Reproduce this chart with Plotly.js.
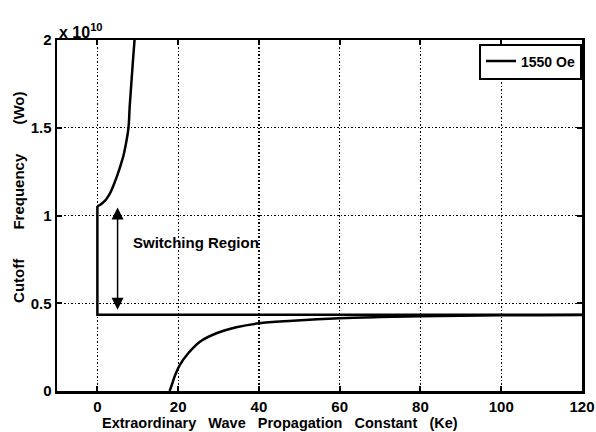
<!DOCTYPE html>
<html>
<head>
<meta charset="utf-8">
<script src="https://cdn.plot.ly/plotly-3.0.1.min.js"></script>
<style>html,body{margin:0;padding:0;background:#fff;}#plot{width:596px;height:432px;}</style>
</head>
<body>
<div id="plot"></div>
<script>
// Values in units of 1e10 (as shown by the "x 10^10" axis multiplier)
const upperK = [9.2, 8.8, 8.4, 8.0, 7.7, 7.0, 6.5, 5.8, 5.1, 4.3, 3.6, 2.9, 2.1, 1.2, 0.6, 0.2, 0];
const upperW = [2.0, 1.88, 1.75, 1.62, 1.5, 1.40, 1.345, 1.29, 1.24, 1.19, 1.15, 1.117, 1.09, 1.07, 1.06, 1.055, 1.054];
const stepK = [0, 0, 120];
const stepW = [1.054, 0.435, 0.435];
const lowerK = [17.9, 18.5, 19.1, 20.4, 22.5, 25.4, 29.5, 34.4, 40, 48.4, 59.9, 70, 80, 90, 100, 110, 120];
const lowerW = [0, 0.04, 0.081, 0.148, 0.215, 0.281, 0.329, 0.363, 0.386, 0.40, 0.414, 0.421, 0.426, 0.429, 0.431, 0.432, 0.433];
const xTicks = [0, 20, 40, 60, 80, 100, 120];
const yTicks = [0, 0.5, 1, 1.5, 2];
const seriesName = '1550 Oe';
const xTitleWords = ['Extraordinary', 'Wave', 'Propagation', 'Constant', '(Ke)'];
const yTitleWords = ['Cutoff', 'Frequency', '(Wo)'];
const arrowK = 5;
const arrowTop = 1.045;
const arrowBottom = 0.455;

const F = 'Arial, "Liberation Sans", Helvetica, sans-serif';
const nb = n => '\u00a0'.repeat(n);
const lineStyle = {color: '#000', width: 2.5};

const traces = [
  {x: stepK, y: stepW, mode: 'lines', name: '<b>' + seriesName + '</b>', legendgroup: 'g',
   line: Object.assign({}, lineStyle), hoverinfo: 'skip'},
  {x: upperK, y: upperW, mode: 'lines', name: seriesName, legendgroup: 'g', showlegend: false,
   line: Object.assign({shape: 'spline', smoothing: 1}, lineStyle), hoverinfo: 'skip'},
  {x: lowerK, y: lowerW, mode: 'lines', name: seriesName, legendgroup: 'g', showlegend: false,
   line: Object.assign({shape: 'spline', smoothing: 1}, lineStyle), hoverinfo: 'skip'}
];

const axisCommon = {
  showline: true, linecolor: '#000', linewidth: 2.5, mirror: 'allticks',
  ticks: 'inside', ticklen: 5, tickwidth: 2, tickcolor: '#000',
  showgrid: true, gridcolor: '#000', gridwidth: 1.2, griddash: '1.5px,2px',
  zeroline: false,
  tickfont: {family: F, size: 15, color: '#000'},
  automargin: false
};

const layout = {
  width: 596, height: 432,
  margin: {l: 57, r: 14, t: 40, b: 41},
  paper_bgcolor: '#fff', plot_bgcolor: '#fff',
  showlegend: true,
  legend: {
    x: 1, y: 0.99, xanchor: 'right', yanchor: 'top',
    bordercolor: '#000', borderwidth: 2, bgcolor: '#fff',
    font: {family: F, size: 14, color: '#000'},
    itemwidth: 30, tracegroupgap: 0
  },
  xaxis: Object.assign({}, axisCommon, {
    range: [-10, 120], tickvals: xTicks, ticktext: xTicks.map(v => '<b>' + v + '</b>')
  }),
  yaxis: Object.assign({}, axisCommon, {
    range: [0, 2], tickvals: yTicks, ticktext: yTicks.map(v => '<b>' + v + '</b>')
  }),
  annotations: [
    {xref: 'paper', yref: 'paper', x: 0.425, y: -0.091, xanchor: 'center', yanchor: 'middle',
     text: '<b>' + xTitleWords.join(nb(3)) + '</b>', showarrow: false,
     font: {family: F, size: 14.5, color: '#000'}},
    {xref: 'paper', yref: 'paper', x: -0.0724, y: 0.553, xanchor: 'center', yanchor: 'middle',
     textangle: -90, text: '<b>' + yTitleWords.join(nb(7)) + '</b>', showarrow: false,
     font: {family: F, size: 15, color: '#000'}},
    {xref: 'paper', yref: 'paper', x: 0, y: 1, xanchor: 'left', yanchor: 'bottom', yshift: -3,
     text: '<b>x 10<sup>10</sup></b>', showarrow: false,
     font: {family: F, size: 16, color: '#000'}},
    {x: arrowK, y: arrowTop, ax: arrowK, ay: arrowBottom, axref: 'x', ayref: 'y',
     text: '', showarrow: true, arrowside: 'end+start', arrowhead: 2, startarrowhead: 2,
     arrowsize: 1.6, startarrowsize: 1.6, arrowwidth: 1.5, arrowcolor: '#000', standoff: 0, startstandoff: 0},
    {x: 24.5, y: 0.845, text: '<b>Switching Region</b>', showarrow: false,
     font: {family: F, size: 15, color: '#000'}}
  ]
};

Plotly.newPlot('plot', traces, layout, {staticPlot: true, displayModeBar: false});
</script>
</body>
</html>
